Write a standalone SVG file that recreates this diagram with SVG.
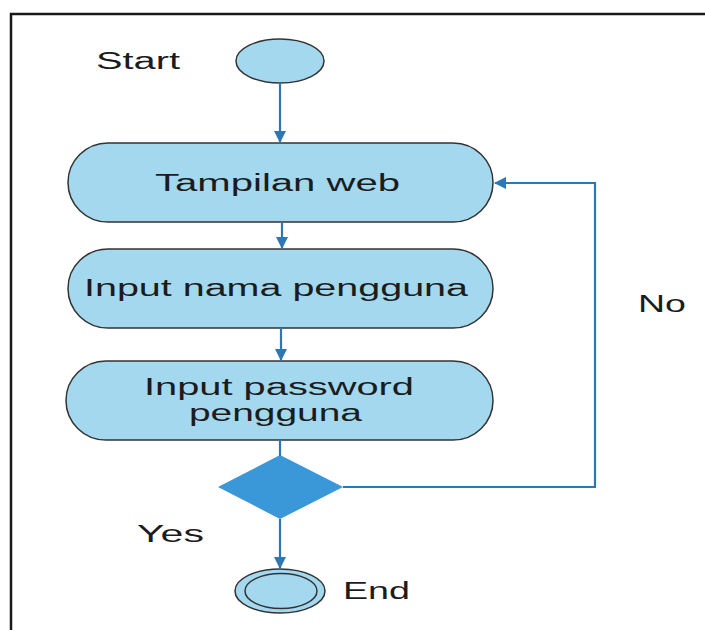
<svg xmlns="http://www.w3.org/2000/svg" width="705" height="630" viewBox="0 0 705 630">
<style>
.node{fill:#a3d8ee;stroke:#333333;stroke-width:1.5}
.edge{fill:none;stroke:#2e77b3;stroke-width:2.2}
.t{font-family:"Liberation Sans",Arial,sans-serif;font-size:23px;fill:#1c1c1c}
</style>
<defs>
<marker id="arr" viewBox="0 0 12 12" refX="11" refY="6" markerWidth="12" markerHeight="12" markerUnits="userSpaceOnUse" orient="auto">
<path d="M0,0 L12,6 L0,12 Z" fill="#2e77b3"/>
</marker>
</defs>
<rect width="705" height="630" fill="#ffffff"/>
<path d="M11,640 L11,14 L710,14" fill="none" stroke="#1a1a1a" stroke-width="2.5"/>
<g id="start">
<ellipse class="node" cx="280" cy="61" rx="44" ry="22"/>
<text class="t" x="96" y="69" textLength="84" lengthAdjust="spacingAndGlyphs">Start</text>
</g>
<g id="tampilan">
<rect class="node" x="68" y="143" width="425" height="79" rx="40" ry="39.5"/>
<text class="t" x="155" y="191" textLength="245" lengthAdjust="spacingAndGlyphs">Tampilan web</text>
</g>
<g id="nama">
<rect class="node" x="68" y="249" width="425" height="79" rx="40" ry="39.5"/>
<text class="t" x="84" y="296" textLength="384" lengthAdjust="spacingAndGlyphs">Input nama pengguna</text>
</g>
<g id="password">
<rect class="node" x="66" y="361" width="427" height="79" rx="40" ry="39.5"/>
<text class="t" x="144" y="395" textLength="270" lengthAdjust="spacingAndGlyphs">Input password</text>
<text class="t" x="189" y="421" textLength="173" lengthAdjust="spacingAndGlyphs">pengguna</text>
</g>
<g id="decision">
<polygon points="280,455 343,487 280,519 218,487" fill="#3a97d8"/>
</g>
<g id="end">
<ellipse class="node" cx="280" cy="591" rx="45" ry="22"/>
<ellipse class="node" cx="281" cy="591" rx="36" ry="17.5"/>
<text class="t" x="343" y="599" textLength="67" lengthAdjust="spacingAndGlyphs">End</text>
</g>
<g id="connectors">
<line class="edge" x1="280" y1="84" x2="280" y2="142" marker-end="url(#arr)"/>
<line class="edge" x1="282" y1="222" x2="282" y2="248" marker-end="url(#arr)"/>
<line class="edge" x1="281" y1="328" x2="281" y2="360" marker-end="url(#arr)"/>
<line class="edge" x1="280" y1="440" x2="280" y2="456"/>
<polyline class="edge" points="343,487 595,487 595,183 495,183" marker-end="url(#arr)"/>
<line class="edge" x1="280" y1="519" x2="280" y2="568" marker-end="url(#arr)"/>
<text class="t" x="638" y="312" textLength="48" lengthAdjust="spacingAndGlyphs">No</text>
<text class="t" x="137" y="542" textLength="67" lengthAdjust="spacingAndGlyphs">Yes</text>
</g>
</svg>
